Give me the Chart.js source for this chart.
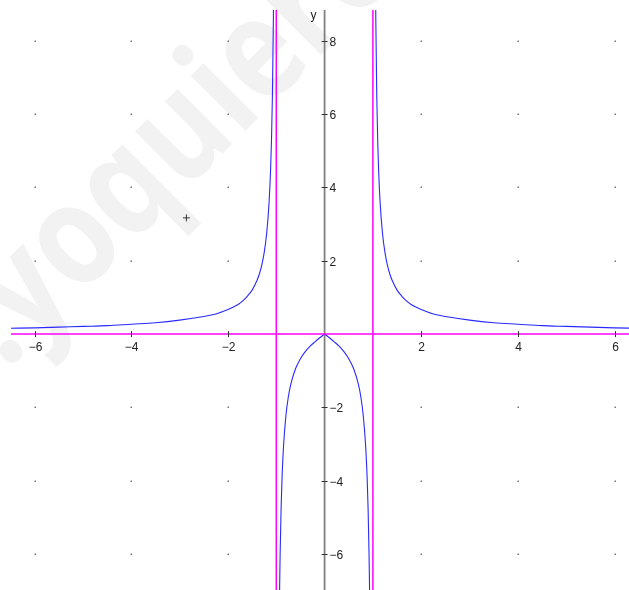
<!DOCTYPE html>
<html>
<head>
<meta charset="utf-8">
<script src="https://cdn.jsdelivr.net/npm/chart.js@4/dist/chart.umd.min.js"></script>
<style>
  html, body { margin: 0; padding: 0; background: #fff; }
  #wrap { width: 629px; height: 590px; }
</style>
</head>
<body>
<div id="wrap"><canvas id="graph" width="629" height="590"></canvas></div>
<script>
// curve branches
const leftX  = [-6.5, -6, -5.5, -5, -4.5, -4, -3.5, -3, -2.5, -2.25, -2, -1.8, -1.7, -1.6, -1.5, -1.4, -1.35, -1.3, -1.25, -1.2, -1.15, -1.12, -1.1, -1.08, -1.06, -1.05];
const leftY  = [0.16, 0.17, 0.19, 0.21, 0.23, 0.27, 0.31, 0.38, 0.48, 0.55, 0.67, 0.80, 0.90, 1.03, 1.20, 1.46, 1.64, 1.88, 2.22, 2.73, 3.57, 4.40, 5.24, 6.49, 8.58, 10.2];
const midLX  = [-0.95, -0.94, -0.93, -0.92, -0.9, -0.88, -0.85, -0.8, -0.75, -0.7, -0.6, -0.5, -0.4, -0.3, -0.2, -0.1, 0];
const midLY  = [-9.74, -8.08, -6.88, -5.99, -4.74, -3.90, -3.06, -2.22, -1.71, -1.37, -0.94, -0.67, -0.48, -0.33, -0.21, -0.10, 0];
const midRX  = [0, 0.1, 0.2, 0.3, 0.4, 0.5, 0.6, 0.7, 0.75, 0.8, 0.85, 0.88, 0.9, 0.92, 0.93, 0.94, 0.95];
const midRY  = [0, -0.10, -0.21, -0.33, -0.48, -0.67, -0.94, -1.37, -1.71, -2.22, -3.06, -3.90, -4.74, -5.99, -6.88, -8.08, -9.74];
const rightX = [1.05, 1.06, 1.08, 1.1, 1.12, 1.15, 1.2, 1.25, 1.3, 1.35, 1.4, 1.5, 1.6, 1.7, 1.8, 2, 2.25, 2.5, 3, 3.5, 4, 4.5, 5, 5.5, 6, 6.5];
const rightY = [10.2, 8.58, 6.49, 5.24, 4.40, 3.57, 2.73, 2.22, 1.88, 1.64, 1.46, 1.20, 1.03, 0.90, 0.80, 0.67, 0.55, 0.48, 0.38, 0.31, 0.27, 0.23, 0.21, 0.19, 0.17, 0.16];

// asymptotes
const vertAsym = [-1, 1];
const horizAsym = [0];

// cursor cross
const cursorX = [-2.86];
const cursorY = [3.17];

// axis ticks
const xTicks = [-6, -4, -2, 2, 4, 6];
const yTicks = [-6, -4, -2, 2, 4, 6, 8];
const gridX = [-6, -4, -2, 2, 4, 6];
const gridY = [-6, -4, -2, 2, 4, 6, 8];

const xMin = -6.49, xMax = 6.30;
const yMin = -6.98, yMax = 8.84;

const pts = (xs, ys) => xs.map((x, i) => ({ x: x, y: ys[i] }));
const fmt = v => (v < 0 ? '\u2212' + Math.abs(v) : String(v));

const curveStyle = {
  showLine: true, borderColor: '#2a2aff', borderWidth: 1.1, pointRadius: 0,
  cubicInterpolationMode: 'monotone', fill: false
};
const asymStyle = { showLine: true, borderColor: '#ff00ff', borderWidth: 1.5, pointRadius: 0, tension: 0, fill: false };

const datasets = [];
horizAsym.forEach(v => datasets.push(Object.assign({ data: [{ x: xMin, y: v }, { x: xMax, y: v }] }, asymStyle)));
vertAsym.forEach(v => datasets.push(Object.assign({ data: [{ x: v, y: yMin }, { x: v, y: yMax }] }, asymStyle)));
datasets.push(Object.assign({ data: pts(leftX, leftY) }, curveStyle));
datasets.push(Object.assign({ data: pts(midLX, midLY) }, curveStyle));
datasets.push(Object.assign({ data: pts(midRX, midRY) }, curveStyle));
datasets.push(Object.assign({ data: pts(rightX, rightY) }, curveStyle));
datasets.push({
  data: pts(cursorX, cursorY), showLine: false, pointStyle: 'cross', pointRadius: 3.5,
  borderColor: '#333', borderWidth: 1
});

const axesPlugin = {
  id: 'axesPlugin',
  beforeDraw(chart) {
    // faint watermark
    const ctx = chart.ctx;
    ctx.save();
    const size = 142;
    ctx.font = 'bold ' + size + 'px "Open Sans"';
    ctx.fillStyle = '#f2f2f2';
    const wy = ctx.measureText('.y').width;
    const wo = ctx.measureText('o').width;
    ctx.translate(77, 245);
    ctx.rotate(-Math.PI / 4);
    ctx.scale(0.84, 1);
    ctx.textBaseline = 'alphabetic';
    ctx.fillText('.yoquieroaprobar', -(wy + wo / 2), 0.27 * size);
    ctx.restore();
  },
  beforeDatasetsDraw(chart) {
    const { ctx, chartArea, scales: { x, y } } = chart;
    ctx.save();
    // grid dots
    ctx.fillStyle = '#777';
    gridX.forEach(gx => gridY.forEach(gy => {
      ctx.fillRect(Math.round(x.getPixelForValue(gx)) - 0.5, Math.round(y.getPixelForValue(gy)) - 0.5, 1.5, 1.5);
    }));
    // y axis
    const x0 = x.getPixelForValue(0);
    ctx.strokeStyle = '#808080';
    ctx.lineWidth = 1.8;
    ctx.beginPath();
    ctx.moveTo(x0, chartArea.top);
    ctx.lineTo(x0, chartArea.bottom);
    ctx.stroke();
    ctx.restore();
  },
  afterDatasetsDraw(chart) {
    const { ctx, chartArea, scales: { x, y } } = chart;
    const x0 = x.getPixelForValue(0);
    const y0 = y.getPixelForValue(0);
    ctx.save();
    ctx.strokeStyle = '#333';
    ctx.lineWidth = 1;
    ctx.fillStyle = '#222';
    ctx.font = '12px "Liberation Sans"';
    // x ticks and labels
    ctx.textAlign = 'center';
    ctx.textBaseline = 'top';
    xTicks.forEach(t => {
      const px = Math.round(x.getPixelForValue(t)) + 0.5;
      ctx.beginPath();
      ctx.moveTo(px, y0 - 3);
      ctx.lineTo(px, y0 + 3);
      ctx.stroke();
      ctx.fillText(fmt(t), px, y0 + 8);
    });
    // y ticks and labels
    ctx.textAlign = 'left';
    ctx.textBaseline = 'middle';
    yTicks.forEach(t => {
      const py = Math.round(y.getPixelForValue(t)) + 0.5;
      ctx.beginPath();
      ctx.moveTo(x0 - 3, py);
      ctx.lineTo(x0 + 3, py);
      ctx.stroke();
      ctx.fillText(fmt(t), x0 + 5, py + 1);
    });
    // axis name
    ctx.textAlign = 'center';
    ctx.fillText('y', x0 - 11, chartArea.top + 6);
    ctx.restore();
  }
};

new Chart(document.getElementById('graph'), {
  type: 'scatter',
  data: { datasets: datasets },
  options: {
    responsive: false,
    animation: false,
    layout: { autoPadding: false, padding: { left: 11, top: 10, right: 0, bottom: 0 } },
    plugins: { legend: { display: false }, tooltip: { enabled: false } },
    scales: {
      x: { type: 'linear', min: xMin, max: xMax, display: false },
      y: { type: 'linear', min: yMin, max: yMax, display: false }
    }
  },
  plugins: [axesPlugin]
});
</script>
</body>
</html>
